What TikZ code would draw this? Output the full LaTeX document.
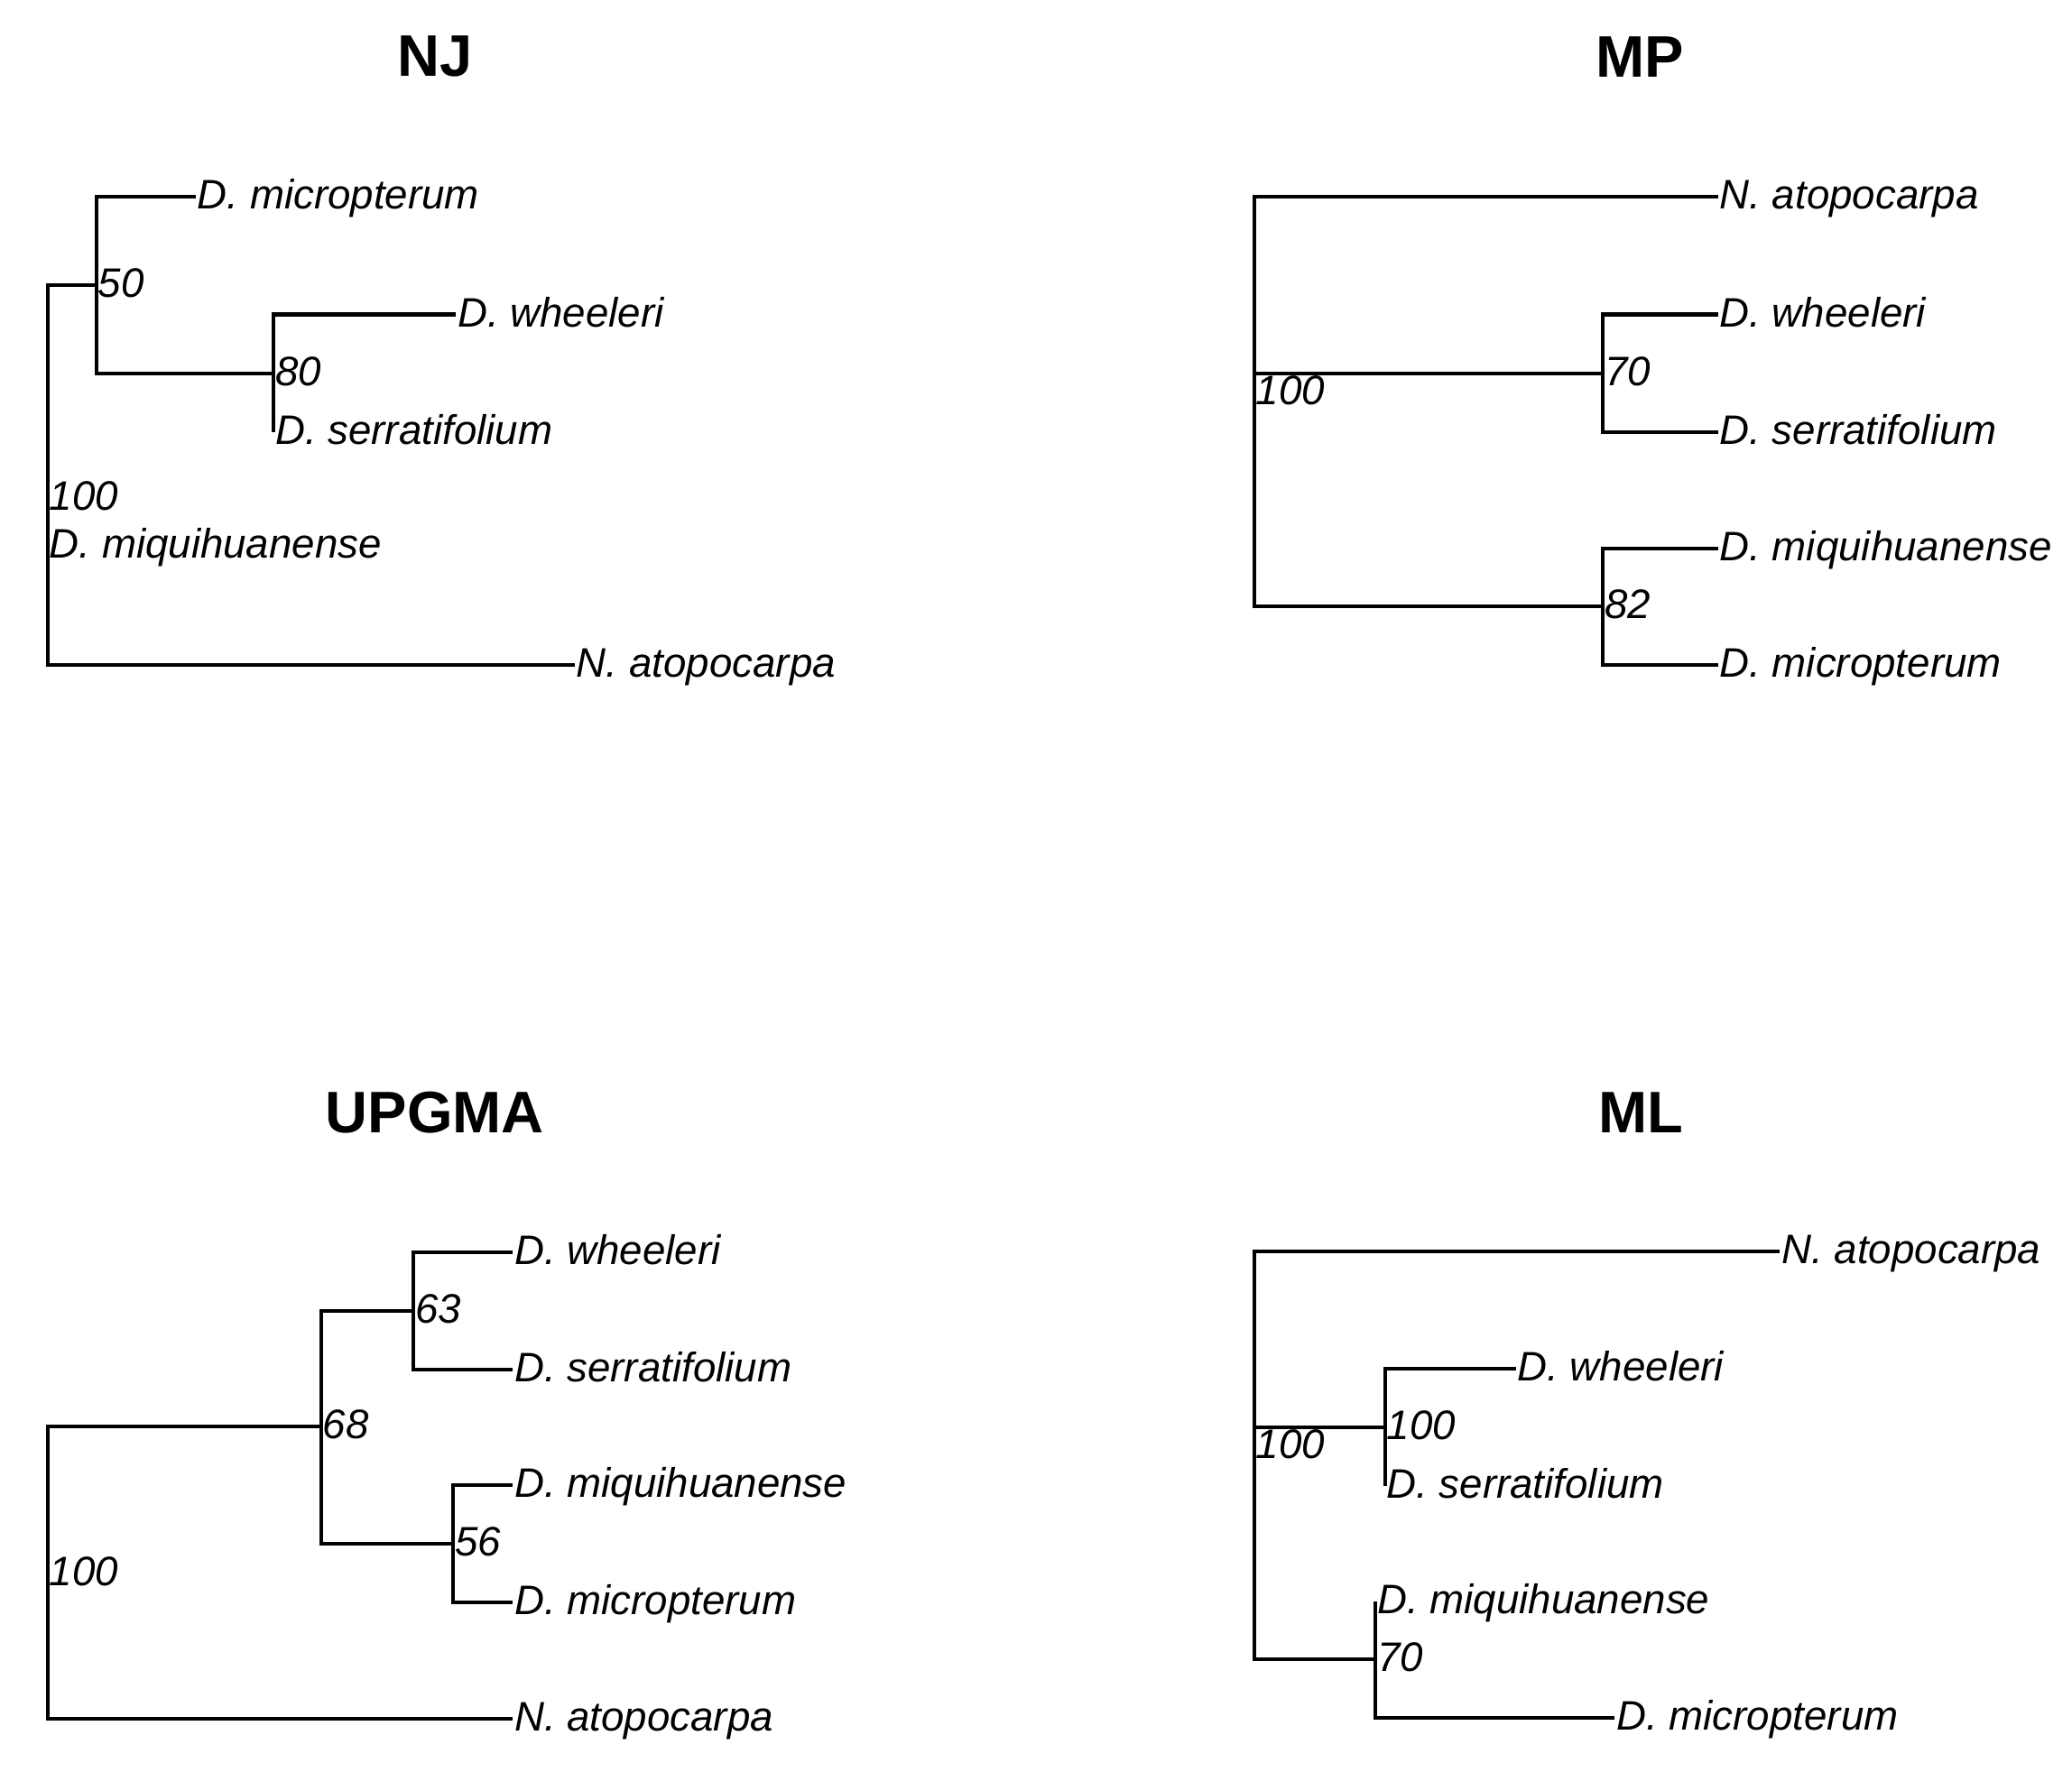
\documentclass[tikz,border=0pt]{standalone}
\usepackage{fontspec}
\setmainfont{Liberation Sans}
\usepackage{tikz}

\begin{document}
\begin{tikzpicture}[x=0.014643cm, y=-0.014643cm, line width=1.15pt,
    taxon/.style={anchor=west, inner sep=0pt, text height=10pt, text depth=2.3pt,
                  font=\fontsize{13}{15}\selectfont\itshape},
    support/.style={taxon},
    treetitle/.style={font=\fontsize{18.5}{22}\selectfont\bfseries}]
  \useasboundingbox (0,0) rectangle (1568,1341);

  % NJ
  \node[treetitle] (njt) at (329,43) {NJ};
  \coordinate (njr) at (36,377);
  \coordinate (nja) at (73,216);
  \coordinate (njb) at (207,282.5);
  \node[taxon] (njmic) at (148,149) {D. micropterum};
  \node[taxon] (njwhe) at (345,238) {D. wheeleri};
  \node[taxon] (njser) at (207,327) {D. serratifolium};
  \node[taxon] (njmiq) at (36,413) {D. miquihuanense};
  \node[taxon] (njatp) at (435,503) {N. atopocarpa};
  \foreach \a/\b in {njr/nja, njr/njmiq, njr/njatp, nja/njmic, nja/njb,
                     njb/njwhe, njb/njser}
    \draw (\a) |- (\b);
  \node[support] (njrl) at (njr) {100};
  \node[support] (njal) at (nja) {50};
  \node[support] (njbl) at (njb) {80};

  % MP
  \node[treetitle] (mpt) at (1241,43) {MP};
  \coordinate (mpr) at (949,297);
  \coordinate (mpa) at (1213,282.5);
  \coordinate (mpb) at (1213,459);
  \node[taxon] (mpatp) at (1300,149) {N. atopocarpa};
  \node[taxon] (mpwhe) at (1300,238) {D. wheeleri};
  \node[taxon] (mpser) at (1300,327) {D. serratifolium};
  \node[taxon] (mpmiq) at (1300,415) {D. miquihuanense};
  \node[taxon] (mpmic) at (1300,503) {D. micropterum};
  \foreach \a/\b in {mpr/mpatp, mpr/mpa, mpr/mpb, mpa/mpwhe, mpa/mpser,
                     mpb/mpmiq, mpb/mpmic}
    \draw (\a) |- (\b);
  \node[support] (mprl) at (mpr) {100};
  \node[support] (mpal) at (mpa) {70};
  \node[support] (mpbl) at (mpb) {82};

  % UPGMA
  \node[treetitle] (upt) at (329,842) {UPGMA};
  \coordinate (upr) at (36,1191);
  \coordinate (upa) at (243,1080);
  \coordinate (upb) at (313,992.5);
  \coordinate (upc) at (343,1168.5);
  \node[taxon] (upwhe) at (388,948) {D. wheeleri};
  \node[taxon] (upser) at (388,1037) {D. serratifolium};
  \node[taxon] (upmiq) at (388,1124) {D. miquihuanense};
  \node[taxon] (upmic) at (388,1213) {D. micropterum};
  \node[taxon] (upatp) at (388,1301) {N. atopocarpa};
  \foreach \a/\b in {upr/upa, upr/upatp, upa/upb, upa/upc, upb/upwhe,
                     upb/upser, upc/upmiq, upc/upmic}
    \draw (\a) |- (\b);
  \node[support] (uprl) at (upr) {100};
  \node[support] (upal) at (upa) {68};
  \node[support] (upbl) at (upb) {63};
  \node[support] (upcl) at (upc) {56};

  % ML
  \node[treetitle] (mlt) at (1242,842) {ML};
  \coordinate (mlr) at (949,1094.7);
  \coordinate (mla) at (1048,1080.5);
  \coordinate (mlb) at (1041,1256);
  \node[taxon] (mlatp) at (1347,947) {N. atopocarpa};
  \node[taxon] (mlwhe) at (1147,1036) {D. wheeleri};
  \node[taxon] (mlser) at (1048,1125) {D. serratifolium};
  \node[taxon] (mlmiq) at (1041,1212) {D. miquihuanense};
  \node[taxon] (mlmic) at (1222,1300) {D. micropterum};
  \foreach \a/\b in {mlr/mlatp, mlr/mla, mlr/mlb, mla/mlwhe, mla/mlser,
                     mlb/mlmiq, mlb/mlmic}
    \draw (\a) |- (\b);
  \node[support] (mlrl) at (mlr) {100};
  \node[support] (mlal) at (mla) {100};
  \node[support] (mlbl) at (mlb) {70};
\end{tikzpicture}
\end{document}
